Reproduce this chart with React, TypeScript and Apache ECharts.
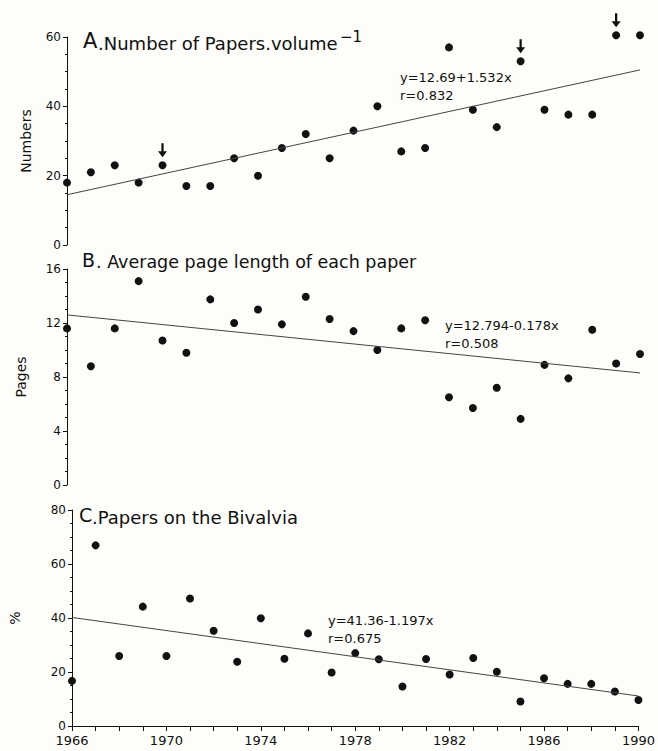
import React, { useEffect, useRef } from 'react';
import * as echarts from 'echarts';

const years = ['1966','1967','1968','1969','1970','1971','1972','1973','1974','1975','1976','1977','1978','1979','1980','1981','1982','1983','1984','1985','1986','1987','1988','1989','1990'];
const papersPerVolume = [18,21,23,18,23,17,17,25,20,28,32,25,33,40,27,28,57,39,34,53,39,37.6,37.6,60.5,60.5];
const pageLength = [11.6,8.8,11.6,15.1,10.7,9.8,13.75,12.0,13.0,11.9,13.95,12.3,11.4,10.0,11.6,12.2,6.5,5.7,7.2,4.9,8.9,7.9,11.5,9.0,9.7];
const bivalviaPct = [16.7,66.9,25.9,44.2,25.9,47.2,35.3,23.8,39.9,24.9,34.3,19.8,27.0,24.7,14.6,24.8,19.1,25.2,20.1,9.1,17.7,15.6,15.6,12.8,9.6];
const trendA = [14.5, 50.5];
const trendB = [12.6, 8.3];
const trendC = [40.2, 11.1];
const arrowYears = ['1970', '1985', '1989'];
const eqA = ['y=12.69+1.532x', 'r=0.832'];
const eqB = ['y=12.794-0.178x', 'r=0.508'];
const eqC = ['y=41.36-1.197x', 'r=0.675'];

const FONT = 'DejaVu Sans';
const INK = '#111111';
const ARROW = 'path://M-1,0 L1,0 L1,8 L4,8 L0,14 L-4,8 L-1,8 Z';

export default function App() {
  const ref = useRef<HTMLDivElement>(null);
  useEffect(() => {
    if (!ref.current) return;
    const chart = echarts.init(ref.current, undefined, { renderer: 'svg' });
    const first = years[0];
    const last = years[years.length - 1];
    const scat = (idx: number, data: number[]) => ({
      type: 'scatter', xAxisIndex: idx, yAxisIndex: idx, clip: false,
      data: years.map((y, i) => [y, data[i]]),
      symbol: 'circle', symbolSize: 8,
      itemStyle: { color: INK, opacity: 1 },
    });
    const trend = (idx: number, t: number[]) => ({
      type: 'line', xAxisIndex: idx, yAxisIndex: idx,
      data: [[first, t[0]], [last, t[1]]],
      symbol: 'none', lineStyle: { color: '#444', width: 1 },
    });
    const yAx = (idx: number, max: number, interval: number, minorSplit: number, name: string, gap: number) => ({
      type: 'value', gridIndex: idx, min: 0, max, interval,
      name, nameLocation: 'middle', nameGap: gap, nameRotate: 90,
      nameTextStyle: { fontFamily: FONT, fontSize: 14, color: INK },
      axisLine: { show: true, lineStyle: { color: INK, width: 1 } },
      axisTick: { show: true, length: 4, lineStyle: { color: INK } },
      minorTick: { show: true, splitNumber: minorSplit, length: 2, lineStyle: { color: INK } },
      splitLine: { show: false },
      axisLabel: { fontFamily: FONT, fontSize: 12, color: INK, margin: 6 },
    });
    const xAx = (idx: number, show: boolean) => ({
      type: 'category', gridIndex: idx, data: years, boundaryGap: false, show,
      axisLine: { show: true, lineStyle: { color: INK, width: 1 } },
      axisTick: { show: true, interval: 0, length: 5, lineStyle: { color: INK } },
      axisLabel: { interval: 3, fontFamily: FONT, fontSize: 13, color: INK, margin: 8 },
      splitLine: { show: false },
    });
    const txt = (x: number, y: number, text: string, size: number) => ({
      type: 'text', x, y,
      style: { text, fontFamily: FONT, fontSize: size, fill: INK, verticalAlign: 'middle', align: 'left' },
    });
    chart.setOption({
      animation: false,
      backgroundColor: '#fdfdf9',
      grid: [
        { left: 67, right: 18, top: 37, height: 208 },
        { left: 67, right: 18, top: 269, height: 216 },
        { left: 67, right: 18, top: 510, height: 216 },
      ],
      xAxis: [xAx(0, false), xAx(1, false), xAx(2, true)],
      yAxis: [
        yAx(0, 60, 20, 4, 'Numbers', 34),
        yAx(1, 16, 4, 4, 'Pages', 39),
        yAx(2, 80, 20, 4, '%', 50),
      ],
      series: [
        scat(0, papersPerVolume), trend(0, trendA),
        scat(1, pageLength), trend(1, trendB),
        scat(2, bivalviaPct), trend(2, trendC),
        {
          type: 'scatter', xAxisIndex: 0, yAxisIndex: 0, clip: false,
          data: arrowYears.map((y) => [y, papersPerVolume[years.indexOf(y)]]),
          symbol: ARROW, symbolSize: [9, 14], symbolOffset: [0, -15],
          itemStyle: { color: INK, opacity: 1 },
        },
      ],
      graphic: [
        txt(83, 41, 'A', 21),
        txt(98, 43, '.Number of Papers.volume', 18),
        txt(340, 37, '\u22121', 15),
        txt(82, 260, 'B', 19),
        txt(96, 262, '. Average page length of each paper', 17.5),
        txt(79, 515, 'C', 19),
        txt(92, 517, '.Papers on the Bivalvia', 18),
        txt(400, 77, eqA[0], 13),
        txt(400, 95, eqA[1], 13),
        txt(445, 325, eqB[0], 13),
        txt(445, 343, eqB[1], 13),
        txt(328, 620, eqC[0], 13),
        txt(328, 638, eqC[1], 13),
      ],
    });
    return () => chart.dispose();
  }, []);
  return <div ref={ref} style={{ position: 'fixed', left: 0, top: 0, width: 658, height: 751 }} />;
}
